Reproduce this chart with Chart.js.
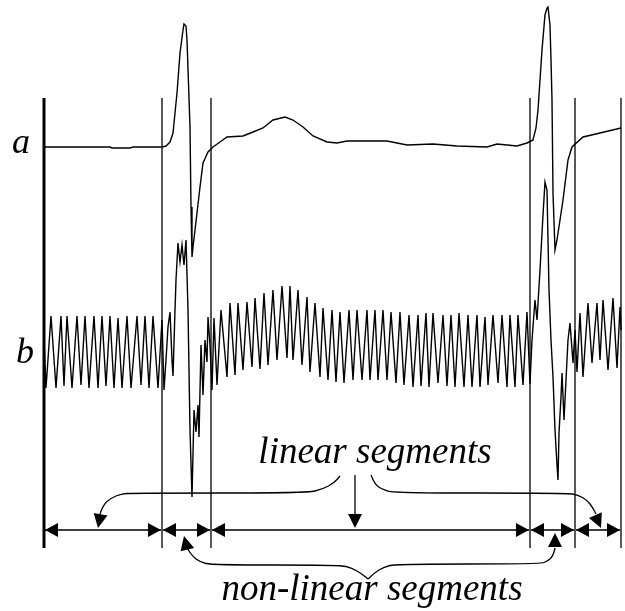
<!DOCTYPE html>
<html><head><meta charset="utf-8">
<script src="https://cdn.jsdelivr.net/npm/chart.js@4/dist/chart.umd.min.js"></script>
<style>html,body{margin:0;padding:0;background:#fff}#wrap{width:625px;height:611px;position:relative}</style>
</head><body><div id="wrap"><canvas id="c"></canvas></div>
<script>
// Signal a (time, amplitude in figure rows; larger = lower)
const aX = [44,110,112,130,133,162,166,170,173,177,180,183,184,186,187,190,191,192,193,197,200,203,208,213,220,227,243,253,263,273,285,293,303,313,327,337,347,387,407,433,457,487,497,517,527,533,536,538,540,542,545,547,548,550,551,552,553,555,557,563,568,572,583,600,621];
const aY = [147,147,148,148,147,147,146,142,133,93,53,30,24,26,40,127,207,257,247,213,187,163,152,147,142,137,136,132,128,120,117,120,127,136,142,143,141,141,145,144,146,147,144,146,143,140,128,110,80,50,15,8,7,25,60,100,193,250,240,200,160,147,137,133,128];

// Signal b, read as successive peaks / troughs
const bX1 = [44,46,51,56,61,64,67,72,77,81,85,89,94,98,102,106,110,114,118,122,127,131,137,141,145,149,153,158,162];
const bY1 = [340,388,316,388,316,386,316,388,316,385,316,388,316,388,316,386,316,388,318,388,316,388,316,385,316,388,316,388,320];
const bX2 = [164,166,168,170,172,173,175,176,178,180,182,184,186,188,190,192,194,196,198,199,201,203,205,207,208,210,212,214];
const bY2 = [390,360,327,312,360,376,310,280,243,262,245,265,240,310,430,497,410,432,405,437,345,395,340,362,317,345,390,318];
const bX3 = [217,221,227,230,235,238,243,247,252,255,260,264,268,273,277,282,287,290,293,298,302,307,310,315,320,323,328,332,336,340,344,349,353,357,362,367,370,375,378,383,387,391,396,400,404,409,413,418,421,426,429,433,438,443,447,451,455,459,464,468,472,477,480,485,488,493,498,502,507,510,515,518,523,527,530];
const bY3 = [385,310,377,303,375,303,370,302,367,298,369,293,365,290,360,286,358,286,360,290,365,297,372,303,377,308,380,310,382,312,383,310,380,310,380,310,380,310,380,310,380,312,383,312,385,315,387,315,386,313,387,313,383,315,386,315,387,313,387,315,387,315,387,317,385,315,383,315,387,315,387,315,385,312,384];
const bX4 = [532,535,537,540,543,545,547,549,551,553,555,557,558,559,561,562,564,566,568,570,573,575,577,580,583,588,592,597,600,603,608,613,617,620,621];
const bY4 = [340,300,320,270,215,182,190,290,340,377,430,465,480,433,397,373,420,380,340,323,363,330,372,313,377,303,363,303,360,300,370,298,368,307,330];

// Segment boundaries (time)
const boundaries = [44,162,211,530,575,621];
const boundaryTop = 98, boundaryBottom = 548;
const dimLevel = 530;

// Labels
const signalLabels = ['a','b'];
const linearText = 'linear segments';
const nonLinearText = 'non-linear segments';

const pts = (xs, ys) => xs.map((x,i)=>({x, y: ys[i]}));
const bXall = bX1.concat(bX2, bX3, bX4);
const bYall = bY1.concat(bY2, bY3, bY4);

const thinBounds = [];
boundaries.slice(1).forEach(b => { thinBounds.push({x:b,y:boundaryTop},{x:b,y:boundaryBottom},{x:b,y:null}); });
const dims = [];
for (let i=0;i<boundaries.length-1;i++){ dims.push({x:boundaries[i]+1,y:dimLevel},{x:boundaries[i+1]-1,y:dimLevel},{x:boundaries[i+1],y:null}); }

const common = {showLine:true, pointRadius:0, borderColor:'#000', tension:0, spanGaps:false, fill:false};

const annot = {
  id:'annot',
  afterDatasetsDraw(chart){
    const ctx = chart.ctx, sx = chart.scales.x, sy = chart.scales.y;
    const P = (x,y)=>[sx.getPixelForValue(x), sy.getPixelForValue(y)];
    ctx.save();
    ctx.strokeStyle = '#000'; ctx.fillStyle = '#000'; ctx.lineWidth = 1.3;
    function head(tx,ty,fx,fy,len=14,hw=7){
      const [x1,y1]=P(tx,ty), [x0,y0]=P(fx,fy);
      const a = Math.atan2(y1-y0,x1-x0);
      ctx.beginPath();
      ctx.moveTo(x1,y1);
      ctx.lineTo(x1-len*Math.cos(a)+hw*Math.sin(a), y1-len*Math.sin(a)-hw*Math.cos(a));
      ctx.lineTo(x1-len*Math.cos(a)-hw*Math.sin(a), y1-len*Math.sin(a)+hw*Math.cos(a));
      ctx.closePath(); ctx.fill();
    }
    function curve(list){
      const p = list.map(q=>P(q[0],q[1]));
      ctx.beginPath(); ctx.moveTo(p[0][0],p[0][1]);
      for(let i=1;i<p.length-1;i++){
        const mx=(p[i][0]+p[i+1][0])/2, my=(p[i][1]+p[i+1][1])/2;
        ctx.quadraticCurveTo(p[i][0],p[i][1],mx,my);
      }
      ctx.lineTo(p[p.length-1][0],p[p.length-1][1]);
      ctx.stroke();
    }
    for (let i=0;i<boundaries.length-1;i++){
      const l=boundaries[i], r=boundaries[i+1];
      head(l+1,dimLevel,r,dimLevel,13,7);
      head(r-1,dimLevel,l,dimLevel,13,7);
    }
    curve([[100,514],[103,505],[111,498],[121,494],[132,493],[307,493],[323,489],[334,483],[340,476]]);
    head(98,528,101,512);
    ctx.beginPath(); let a=P(355,475), b=P(355,514); ctx.moveTo(a[0],a[1]); ctx.lineTo(b[0],b[1]); ctx.stroke();
    head(355,528,355,500);
    curve([[371,475],[374,483],[381,489],[395,493],[567,493],[578,495],[587,500],[593,508],[596,514]]);
    head(601,528,594,512);
    curve([[187,548],[192,556],[200,562],[212,565],[340,565],[352,568],[362,574],[368,579]]);
    curve([[368,579],[374,573],[384,567],[396,564],[540,564],[548,561],[553,556],[555,548]]);
    head(184,536,188,552);
    head(555,533,555,550);
    ctx.textAlign='center'; ctx.textBaseline='alphabetic';
    ctx.font = 'italic 37px "Liberation Serif", "DejaVu Serif", serif';
    let t=P(375,463); ctx.fillText(linearText,t[0],t[1]);
    t=P(372,600); ctx.fillText(nonLinearText,t[0],t[1]);
    ctx.textAlign='left';
    ctx.font = 'italic 36px "Liberation Serif", "DejaVu Serif", serif';
    t=P(12,153); ctx.fillText(signalLabels[0],t[0],t[1]);
    t=P(16,363); ctx.fillText(signalLabels[1],t[0],t[1]);
    ctx.restore();
  }
};

new Chart(document.getElementById('c'), {
  type:'scatter',
  data:{datasets:[
    Object.assign({label:'a', data:pts(aX,aY), borderWidth:1.4}, common),
    Object.assign({label:'b', data:pts(bXall,bYall), borderWidth:1.4}, common),
    Object.assign({label:'first', data:[{x:boundaries[0],y:boundaryTop},{x:boundaries[0],y:boundaryBottom}], borderWidth:3}, common),
    Object.assign({label:'bounds', data:thinBounds, borderWidth:1.3}, common),
    Object.assign({label:'dims', data:dims, borderWidth:1.3}, common)
  ]},
  options:{
    responsive:true, maintainAspectRatio:false, animation:false,
    layout:{padding:0},
    plugins:{legend:{display:false}, tooltip:{enabled:false}, title:{display:false}},
    scales:{
      x:{type:'linear', min:0, max:625, display:false},
      y:{type:'linear', min:0, max:611, reverse:true, display:false}
    }
  },
  plugins:[annot]
});
</script></body></html>
